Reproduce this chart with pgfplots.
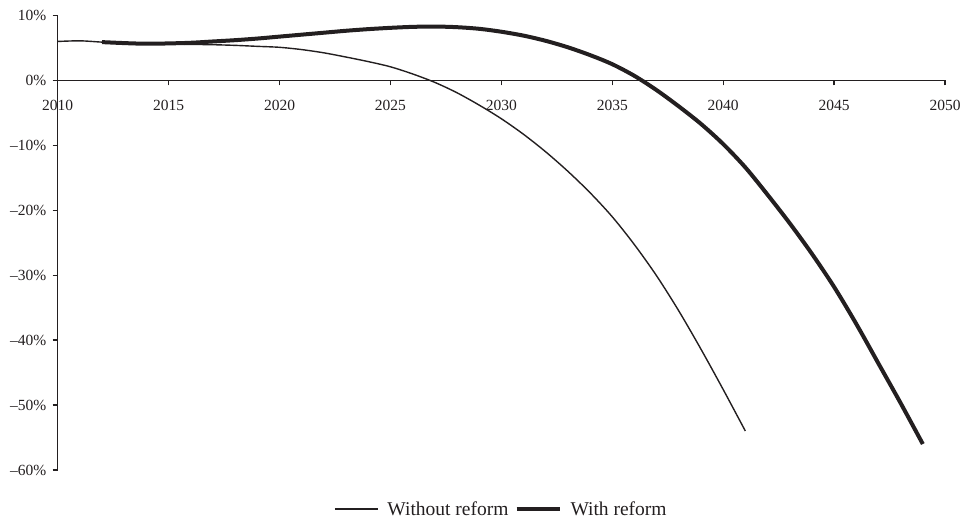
\documentclass[border=0pt]{standalone}
\usepackage{fontspec}
\setmainfont{Liberation Serif}
\usepackage{pgfplots}
\pgfplotsset{compat=1.18}
\definecolor{ink}{HTML}{231F20}
\begin{document}
\begin{tikzpicture}
\path[use as bounding box] (-57.7pt,-52pt) rectangle (906.3pt,470pt);
\begin{axis}[
  scale only axis,
  width=887.3pt, height=454.5pt,
  xmin=2010, xmax=2050, ymin=-60, ymax=10,
  axis x line=middle, axis y line=left,
  axis line style={-, ink, line width=1.3pt},
  hide obscured x ticks=false,
  xtick={2010,2015,...,2050},
  xticklabels={2010,2015,2020,2025,2030,2035,2040,2045,2050},
  ytick={-60,-50,...,10},
  yticklabels={–60\%,–50\%,–40\%,–30\%,–20\%,–10\%,0\%,10\%},
  x tick style={ink, line width=1.3pt},
  y tick style={ink, line width=1.3pt},
  xtick align=outside,
  ytick align=outside,
  major tick length=5pt,
  tick label style={font=\fontsize{15.5}{18}\selectfont, text=ink},
  xticklabel style={yshift=-11pt},
  yticklabel style={xshift=-3pt},
  clip=false,
  legend style={at={(0.5,-0.086)}, anchor=center, draw=none, fill=none,
    font=\fontsize{19.5}{22}\selectfont, text=ink, legend columns=2,
    /tikz/every even column/.append style={column sep=4pt}},
  legend image code/.code={\draw[#1] (0pt,0pt) -- (43pt,0pt); \path (50pt,0pt);},
]
\addplot[ink, line width=1.4pt, line join=round, smooth] coordinates {
(2010,6.0) (2011,6.1) (2012,5.9) (2013,5.75) (2014,5.65) (2015,5.6)
(2016,5.55) (2017,5.5) (2018,5.4) (2019,5.25) (2020,5.1) (2021,4.75)
(2022,4.25) (2023,3.6) (2024,2.9) (2025,2.1) (2026,1.0) (2027,-0.3)
(2028,-1.9) (2029,-3.8) (2030,-5.9) (2031,-8.3) (2032,-11.0) (2033,-14.0)
(2034,-17.3) (2035,-21.0) (2036,-25.3) (2037,-30.1) (2038,-35.5)
(2039,-41.4) (2040,-47.6) (2041,-54.0)
};
\addlegendentry{Without reform}
\addplot[ink, line width=4pt, line join=round, smooth] coordinates {
(2012,5.9) (2013,5.75) (2014,5.65) (2015,5.7) (2016,5.8) (2017,6.0)
(2018,6.2) (2019,6.45) (2020,6.75) (2021,7.05) (2022,7.35) (2023,7.65)
(2024,7.9) (2025,8.1) (2026,8.25) (2027,8.3) (2028,8.2) (2029,7.95)
(2030,7.5) (2031,6.9) (2032,6.1) (2033,5.1) (2034,3.9) (2035,2.5)
(2036,0.7) (2037,-1.5) (2038,-4.0) (2039,-6.7) (2040,-9.8) (2041,-13.4)
(2042,-17.6) (2043,-22.0) (2044,-26.7) (2045,-31.8) (2046,-37.5)
(2047,-43.6) (2048,-49.7) (2049,-56.0)
};
\addlegendentry{With reform}
\end{axis}
\end{tikzpicture}
\end{document}
